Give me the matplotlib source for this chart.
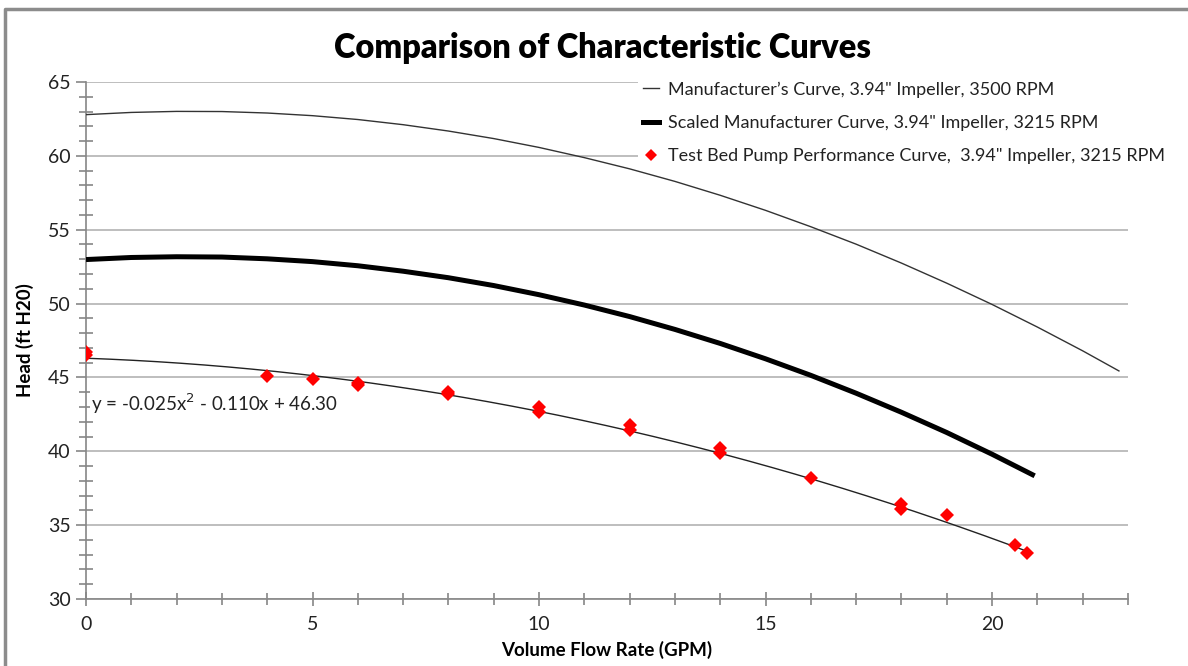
import numpy as np
import matplotlib.pyplot as plt
from matplotlib.ticker import MultipleLocator
from matplotlib.lines import Line2D

plt.rcParams['font.family'] = ['Lato', 'DejaVu Sans']

# manufacturer's curve, 3500 RPM
mfr_q = [0, 1, 2, 3, 4, 5, 6, 7, 8, 9, 10, 11, 12, 13, 14, 15, 16, 17, 18, 19, 20, 21, 22, 22.8]
mfr_h = [62.79, 62.94, 63.01, 63.00, 62.90, 62.72, 62.46, 62.11, 61.68, 61.17, 60.57, 59.88,
         59.12, 58.27, 57.33, 56.31, 55.20, 54.02, 52.74, 51.38, 49.94, 48.41, 46.80, 45.44]

# scaled manufacturer curve, 3215 RPM
scl_q = [0, 1, 2, 3, 4, 5, 6, 7, 8, 9, 10, 11, 12, 13, 14, 15, 16, 17, 18, 19, 20, 20.94]
scl_h = [52.98, 53.12, 53.17, 53.15, 53.03, 52.84, 52.56, 52.19, 51.75, 51.22, 50.60, 49.90,
         49.12, 48.25, 47.30, 46.26, 45.14, 43.93, 42.64, 41.27, 39.80, 38.34]

# test bed measurements
test_q = [0, 0, 4, 5, 6, 6, 8, 8, 10, 10, 12, 12, 14, 14, 16, 18, 18, 19, 20.5, 20.77]
test_h = [46.5, 46.7, 45.1, 44.87, 44.5, 44.6, 43.9, 44.0, 42.97, 42.63, 41.77, 41.43,
          40.24, 39.90, 38.21, 36.43, 36.07, 35.68, 33.63, 33.09]

# trendline coefficients as shown on the chart
trend_coef = [-0.025, -0.110, 46.30]
trend_label = "y = -0.025x$^2$ - 0.110x + 46.30"

labels = ["Manufacturer\u2019s Curve, 3.94\" Impeller, 3500 RPM",
          "Scaled Manufacturer Curve, 3.94\" Impeller, 3215 RPM",
          "Test Bed Pump Performance Curve,  3.94\" Impeller, 3215 RPM"]

W, H = 1188, 666
fig = plt.figure(figsize=(W / 100, H / 100), dpi=100, facecolor='w')
ax = fig.add_axes([86 / W, 1 - 599 / H, (1128 - 86) / W, (599 - 82) / H])

gray = '#868686'
ax.set_xlim(0, 23)
ax.set_ylim(30, 65)
ax.xaxis.set_major_locator(MultipleLocator(5))
ax.xaxis.set_minor_locator(MultipleLocator(1))
ax.yaxis.set_major_locator(MultipleLocator(5))
ax.yaxis.set_minor_locator(MultipleLocator(1))
ax.grid(axis='y', which='major', color='#b3b3b3', lw=1.2)
ax.set_axisbelow(True)
for s in ['top', 'right']:
    ax.spines[s].set_visible(False)
for s in ['left', 'bottom']:
    ax.spines[s].set_color(gray)
    ax.spines[s].set_linewidth(1.2)
ax.tick_params(axis='x', which='major', direction='inout', length=10, color=gray, width=1.2,
               labelsize=14, pad=7, labelcolor='#222222')
ax.tick_params(axis='x', which='minor', direction='inout', length=8, color=gray, width=1.2)
ax.tick_params(axis='y', which='major', direction='out', length=7, color=gray, width=1.2,
               labelsize=14, pad=4, labelcolor='#222222')
ax.tick_params(axis='y', which='minor', direction='inout', length=10, color=gray, width=1.2)

ax.plot(mfr_q, mfr_h, color='#333333', lw=1.0, zorder=3)
ax.plot(scl_q, scl_h, color='black', lw=3.6, solid_capstyle='butt', zorder=3)

tq = np.linspace(0, max(test_q), 200)
ax.plot(tq, np.polyval(trend_coef, tq), color='#222222', lw=1.0, zorder=3)
ax.plot(test_q, test_h, linestyle='none', marker='D', markersize=7.5, color='#ff0000',
        markeredgewidth=0, zorder=4)

ax.text(0.12, 43.2, trend_label, fontsize=13.5, color='#222222', va='center', ha='left',
        bbox=dict(facecolor='white', edgecolor='none', pad=1), zorder=5)

ax.set_xlabel("Volume Flow Rate (GPM)", fontsize=13.5, fontweight='bold', labelpad=6)
ax.set_ylabel("Head (ft H20)", fontsize=13.5, fontweight='bold', labelpad=10)

handles = [Line2D([], [], color='#333333', lw=1.0),
           Line2D([], [], color='black', lw=3.6),
           Line2D([], [], linestyle='none', marker='D', markersize=6, color='#ff0000',
                  markeredgewidth=0)]
leg = fig.legend(handles, labels, loc='upper left', bbox_to_anchor=(638 / W, 1 - 76 / H),
                 bbox_transform=fig.transFigure, fontsize=13, frameon=True,
                 handlelength=0.85, handletextpad=0.5, labelspacing=0.95, borderpad=0.3,
                 borderaxespad=0)
leg.get_frame().set_facecolor('white')
leg.get_frame().set_edgecolor('none')
leg.get_frame().set_alpha(1)
for t in leg.get_texts():
    t.set_color('#222222')

fig.text(0.507, 1 - 48 / H, "Comparison of Characteristic Curves", fontsize=23.5,
         fontweight='heavy', ha='center', va='center')

# outer chart border (partly cropped in the reference)
fig.add_artist(Line2D([5 / W, 5 / W, 1.0], [0.0, 1 - 9 / H, 1 - 9 / H],
                      transform=fig.transFigure, color='#8c8c8c', lw=2.5))

fig.savefig('out.png', dpi=100, facecolor='w')
